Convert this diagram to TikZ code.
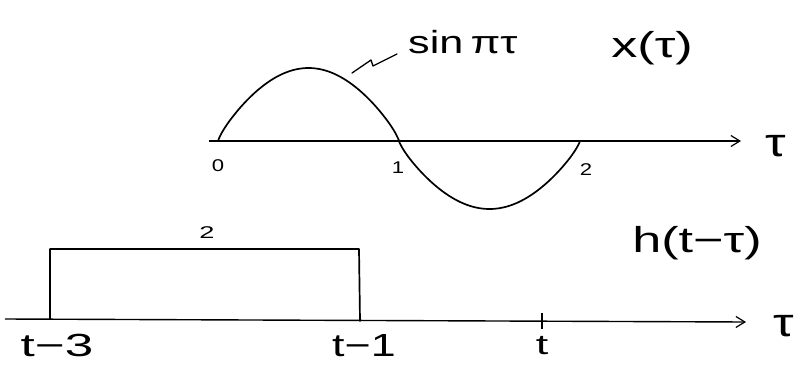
\documentclass[tikz,border=0pt]{standalone}
\usepackage{fontspec}
\setmainfont{Liberation Sans}
\usetikzlibrary{arrows.meta}
\newcommand{\wide}[2]{\scalebox{#1}[1]{#2}}
\begin{document}
\begin{tikzpicture}[x=1pt,y=-1pt,
  ink/.style={line width=1.7pt,line cap=round,line join=round},
  axis/.style={line width=1.1pt,-{Straight Barb[length=9pt,width=11pt,line width=1.2pt]}},
  big/.style={font=\fontsize{36}{38}\selectfont,inner sep=0pt},
  taus/.style={font=\fontsize{40}{42}\selectfont,inner sep=0pt},
  mid/.style={font=\fontsize{32}{34}\selectfont,inner sep=0pt},
  small/.style={font=\fontsize{17}{19}\selectfont,inner sep=0pt}]
\useasboundingbox (0,0) rectangle (802,364);
% top axis
\coordinate (a0) at (209,141);
\coordinate (a1) at (741,141);
\draw[axis] (a0) -- (a1);
\node[taus] (tau1) at (776,146) {\wide{1.3}{τ}};
% sine curve
\draw[ink] plot[domain=0.002:0.998,samples=60,smooth] ({218+181*\x},{141-73*(sin(180*\x))^0.8})
  -- plot[domain=1.002:1.998,samples=60,smooth] ({218+181*\x},{141+68*(abs(sin(180*\x)))^0.8});
\node[small] (l0) at (218,166) {\wide{1.3}{0}};
\node[small] (l1) at (398,168) {\wide{1.3}{1}};
\node[small] (l2) at (586,170) {\wide{1.3}{2}};
\coordinate (s0) at (352,73);
\coordinate (s3) at (397,54);
\draw[ink,line width=1.3pt] (s0) -- (371,60) -- (373,66) -- (s3);
\node[mid,anchor=west] (sinlab) at (408,42) {\wide{1.35}{sin\,πτ}};
\node[big] (xlab) at (652,48) {\wide{1.45}{x(τ)}};
% bottom axis
\coordinate (b0) at (5,319);
\coordinate (b1) at (746,322);
\draw[axis,line width=1.4pt] (b0) -- (b1);
\node[taus] (tau2) at (784,326) {\wide{1.3}{τ}};
% rectangle
\coordinate (r0) at (50,319);
\coordinate (r1) at (50,249);
\coordinate (r2) at (359,249);
\coordinate (r3) at (360,321);
\draw[ink] (r0) -- (r1) -- (r2) -- (r3);
\node[small] (two) at (207,233) {\wide{1.6}{2}};
\node[mid] (tm3) at (57,345) {\wide{1.6}{t−3}};
\node[mid] (tm1) at (364,346) {\wide{1.4}{t−1}};
\coordinate (k0) at (542,313);
\coordinate (k1) at (542,329);
\draw[line width=1.3pt] (k0) -- (k1);
\node[font=\fontsize{28}{30}\selectfont,inner sep=0pt,anchor=base] (tt) at (542,354) {\wide{1.6}{t}};
\node[big] (hlab) at (697,243) {\wide{1.45}{h(t−τ)}};
\end{tikzpicture}
\end{document}
